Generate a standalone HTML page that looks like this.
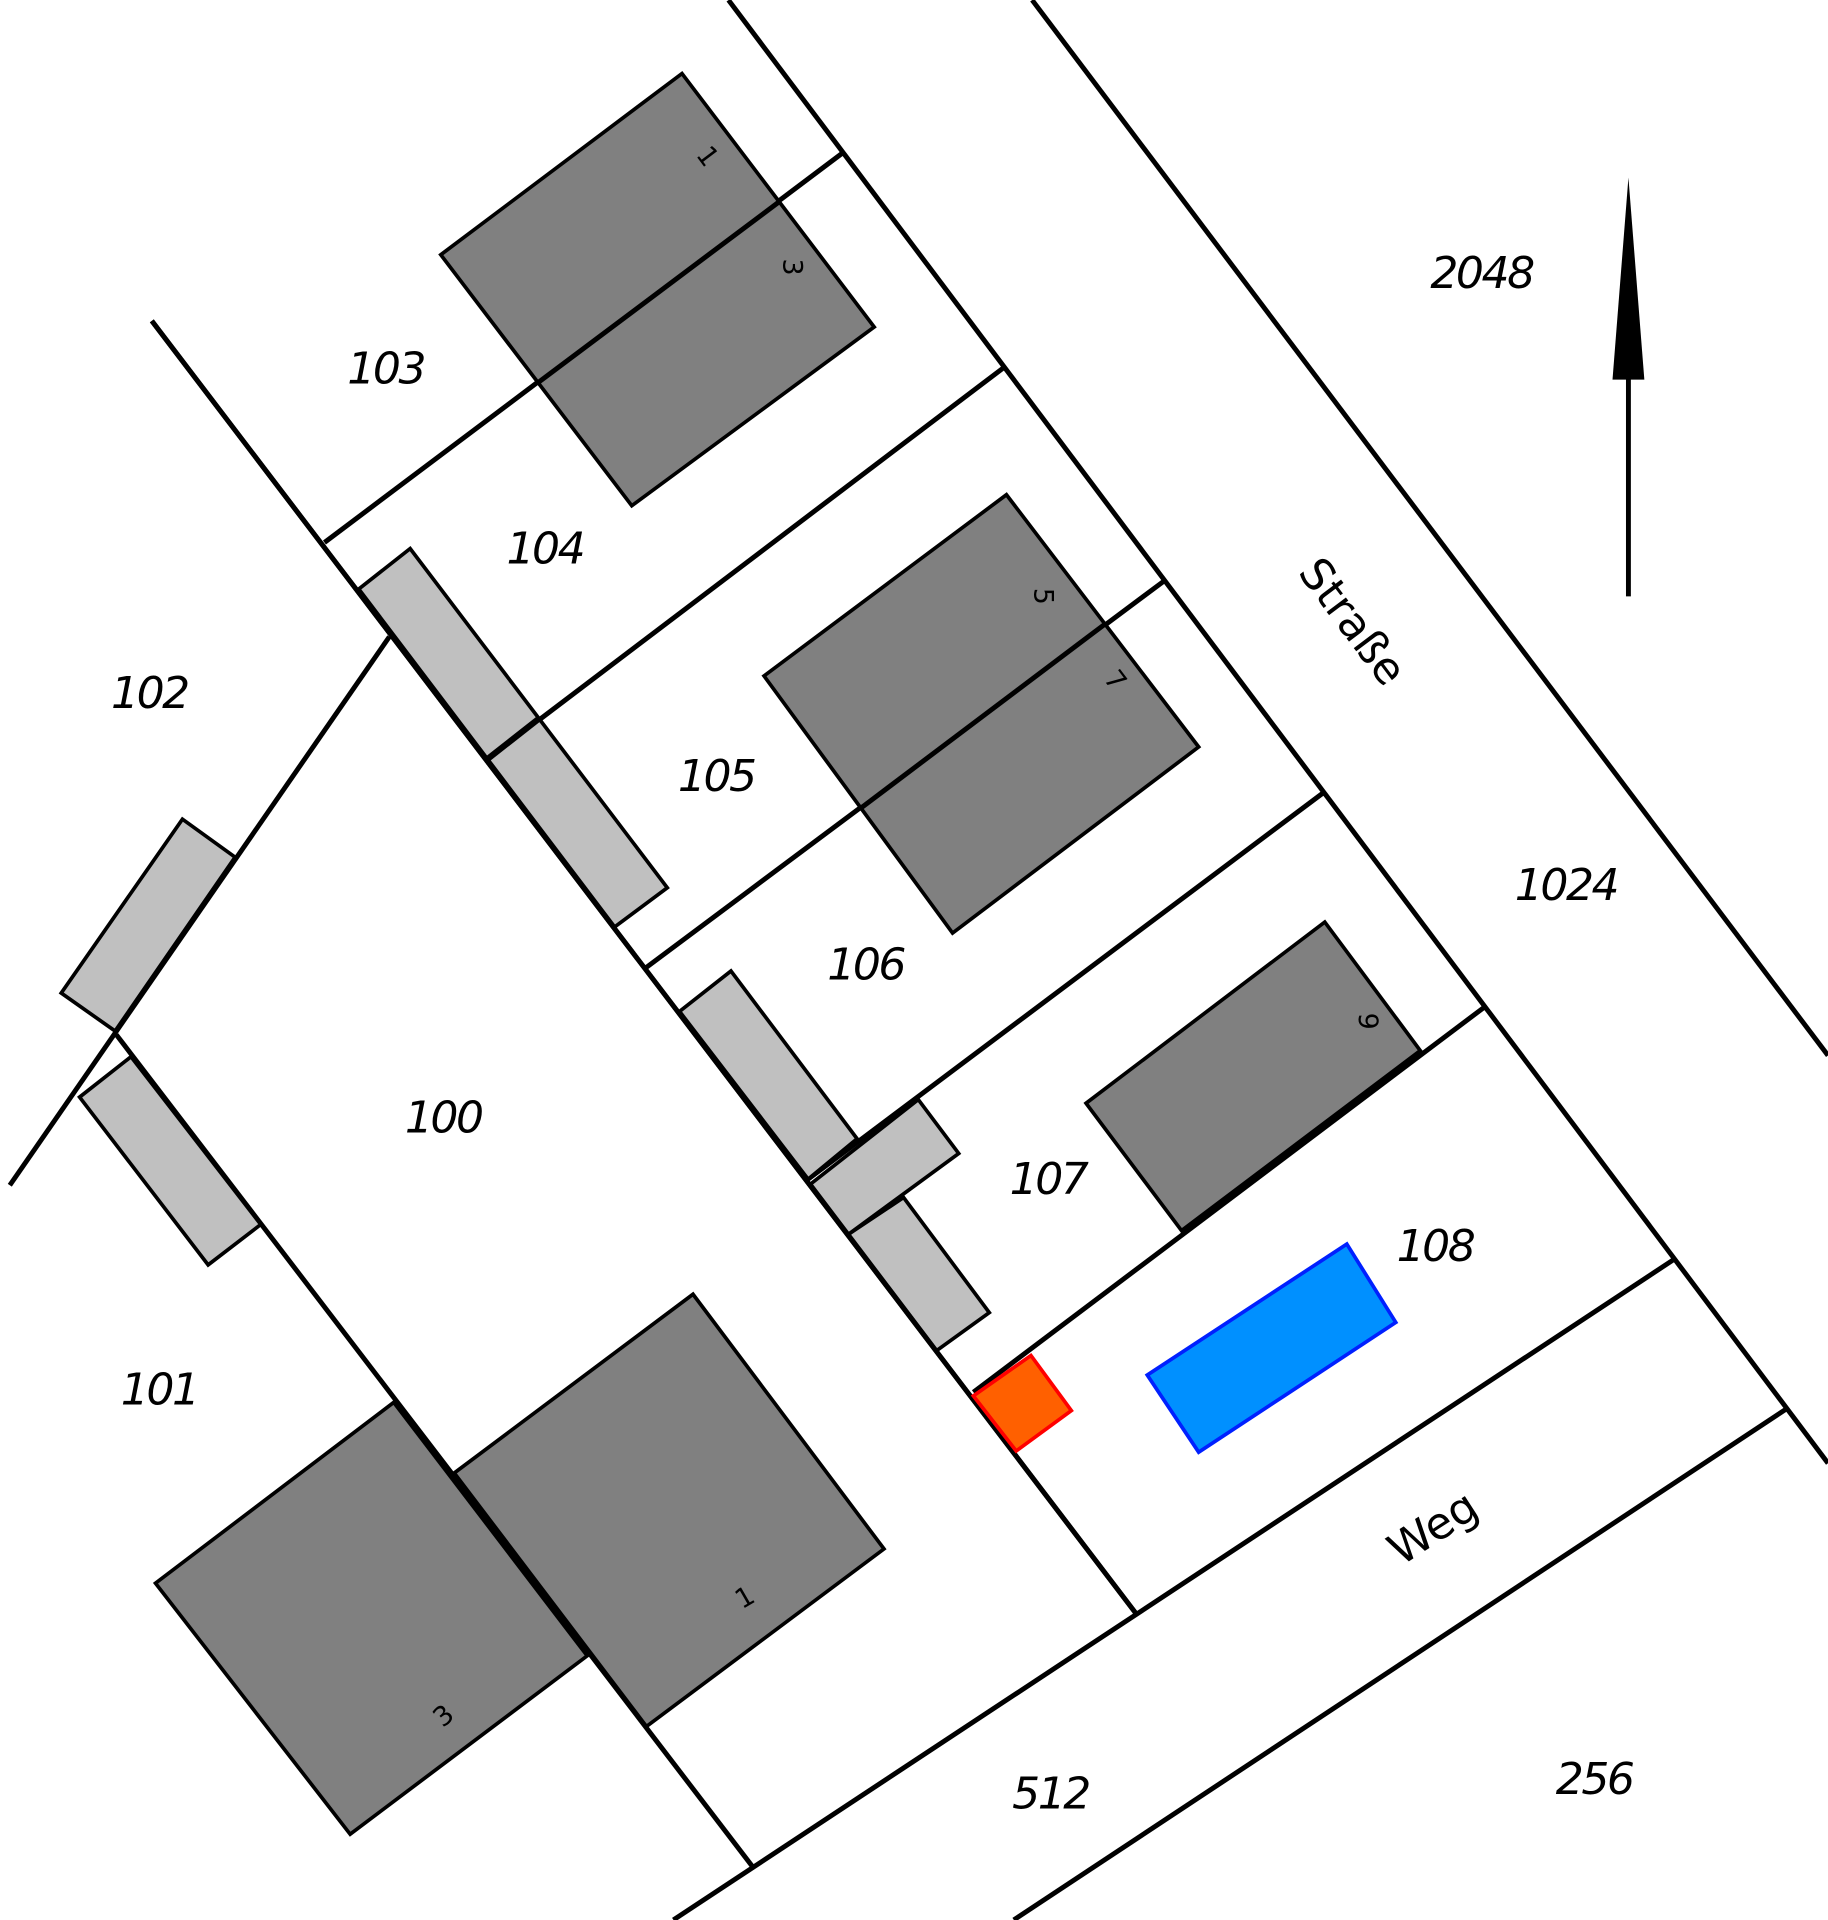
<!DOCTYPE html>
<html><head><meta charset="utf-8"><style>html,body{margin:0;padding:0;background:#fff}svg{display:block}</style></head>
<body>
<svg xmlns="http://www.w3.org/2000/svg" width="1828" height="1920" viewBox="0 0 1493 1568">
<rect width="1493" height="1568" fill="#fff"/>
<g stroke="#000" stroke-width="4" fill="none" stroke-linecap="butt">
<line x1="595" y1="0" x2="1493" y2="1195"/>
<line x1="843" y1="0" x2="1493" y2="862"/>
<line x1="828" y1="1568" x2="1460" y2="1150"/>
<line x1="550" y1="1568" x2="1368" y2="1028"/>
<line x1="124" y1="262" x2="928" y2="1318"/>
<line x1="95" y1="845" x2="615" y2="1525"/>
<line x1="8" y1="968" x2="318" y2="520"/>
<line x1="265" y1="443" x2="688" y2="125"/>
<line x1="398" y1="620" x2="820" y2="300"/>
<line x1="528" y1="790" x2="950" y2="475"/>
<line x1="660" y1="963" x2="1080" y2="648"/>
<line x1="795" y1="1137" x2="1213" y2="822"/>
</g>
<g stroke="#000" stroke-width="3" fill="#808080">
<polygon points="360,208 557,60 714,267 516,413"/>
<polygon points="624,552 822,404 979,610 778,762"/>
<polygon points="887,901 1082,753 1160,858 965,1005"/>
<polygon points="371,1203 566,1057 722,1265 528,1410"/>
<polygon points="127,1293 322,1145 480,1352 286,1498"/>
</g>
<g stroke="#000" stroke-width="4">
<line x1="440" y1="312" x2="636" y2="165"/>
<line x1="703" y1="660" x2="902" y2="510"/>
<line x1="322" y1="1145" x2="480" y2="1352"/>
</g>
<g stroke="#000" stroke-width="3" fill="#c0c0c0">
<polygon points="293,481 335,448 545,725 502,757"/>
<polygon points="50,811 149,669 192,700 94,842"/>
<polygon points="65,896 107,863 213,1000 170,1033"/>
<polygon points="555,826 597,793 700,930 660,963"/>
<polygon points="693,1008 738,978 808,1072 765,1103"/>
<polygon points="662,967 750,898 783,942 693,1008"/>
</g>
<g stroke="#000" stroke-width="5">
<line x1="398" y1="620" x2="440" y2="587"/>
<line x1="124" y1="262" x2="928" y2="1318" stroke-width="4"/>
</g>
<polygon points="795,1140 842,1107 875,1152 830,1185" fill="#ff6000" stroke="#ff0000" stroke-width="3"/>
<polygon points="937,1123 1100,1016 1140,1080 979,1186" fill="#0090ff" stroke="#0020ff" stroke-width="3"/>
<line x1="1330" y1="487" x2="1330" y2="305" stroke="#000" stroke-width="4"/>
<polygon points="1317,310 1330,145 1343,310" fill="#000"/>
<g font-family="'DejaVu Sans','Liberation Sans',sans-serif" font-style="italic" font-size="36" fill="#000" text-anchor="middle" letter-spacing="-2">
<text x="1210" y="235">2048</text>
<text x="315" y="313">103</text>
<text x="445" y="460">104</text>
<text x="122" y="578">102</text>
<text x="585" y="646">105</text>
<text x="707" y="800">106</text>
<text x="362" y="925">100</text>
<text x="856" y="975">107</text>
<text x="1172" y="1030">108</text>
<text x="1279" y="735">1024</text>
<text x="130" y="1147">101</text>
<text x="858" y="1477">512</text>
<text x="1302" y="1465">256</text>
<text transform="translate(1095,515) rotate(53)" font-style="normal" letter-spacing="0">Straße</text>
<text transform="translate(1177,1258) rotate(-33)" font-style="normal" letter-spacing="0">Weg</text>
</g>
<g font-family="'DejaVu Sans','Liberation Sans',sans-serif" font-size="22" fill="#000" text-anchor="middle">
<text transform="translate(572,132) rotate(53)">1</text>
<text transform="translate(640,218) rotate(90)">3</text>
<text transform="translate(845,487) rotate(90)">5</text>
<text transform="translate(905,560) rotate(53)">7</text>
<text transform="translate(1110,834) rotate(90)">9</text>
<text transform="translate(612,1311) rotate(-30)">1</text>
<text transform="translate(367,1407) rotate(-40)">3</text>
</g>
</svg>
</body></html>
